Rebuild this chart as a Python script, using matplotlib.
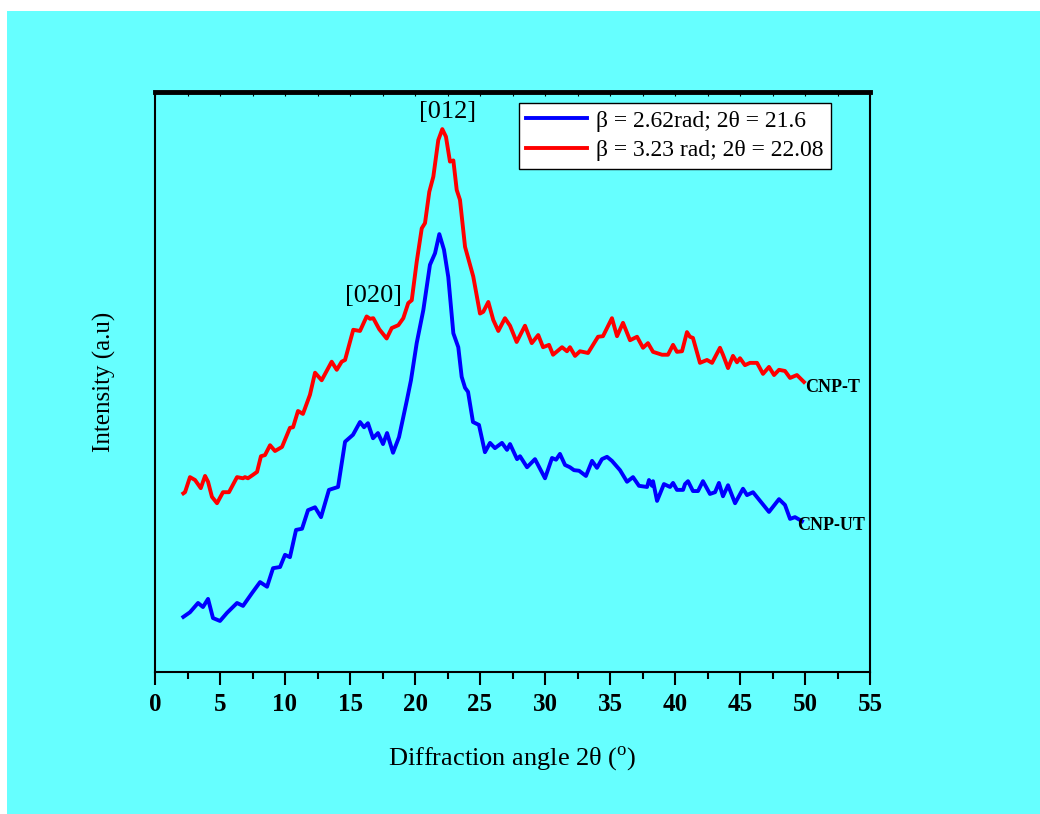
# XRD patterns of CNP-UT and CNP-T
import numpy as np
import matplotlib
matplotlib.use("Agg")
import matplotlib.pyplot as plt
from matplotlib.patches import Rectangle
from matplotlib.ticker import MultipleLocator

plt.rcParams['font.family'] = ['Liberation Serif', 'DejaVu Serif']
plt.rcParams['mathtext.fontset'] = 'custom'
plt.rcParams['mathtext.rm'] = 'Liberation Serif'

ut_x = [2.18, 2.69, 3.31, 3.69, 4.08, 4.46, 5.0, 5.54, 6.31, 6.77, 7.46, 8.08, 8.62, 9.08,
        9.62, 10.0, 10.38, 10.85, 11.31, 11.77, 12.31, 12.77, 13.38, 14.08, 14.62, 15.23,
        15.77, 16.08, 16.38, 16.77, 17.15, 17.54, 17.85, 18.31, 18.77, 19.38, 19.69,
        20.13, 20.64, 21.15, 21.54, 21.87, 22.23, 22.56, 22.95, 23.33, 23.59, 23.85,
        24.08, 24.46, 24.92, 25.38, 25.77, 26.15, 26.69, 27.08, 27.31, 27.85,
        28.08, 28.62, 29.23, 30.0, 30.54, 30.85, 31.15, 31.54, 31.92, 32.23, 32.62,
        33.15, 33.62, 34.0, 34.38, 34.77, 35.15, 35.77, 36.31, 36.77, 37.23, 37.85,
        38.0, 38.23, 38.31, 38.62, 39.15, 39.62, 39.85, 40.15, 40.62, 40.77, 41.0,
        41.38, 41.77, 42.15, 42.69, 43.08, 43.38, 43.69, 44.08, 44.62, 45.23, 45.54,
        46.0, 46.69, 47.23, 48.0, 48.46, 48.85, 49.23, 49.77]
ut_y = [9.5, 10.3, 11.9, 11.2, 12.6, 9.3, 8.8, 10.2, 11.9, 11.4, 13.6, 15.5, 14.7, 17.9,
        18.1, 20.2, 19.8, 24.5, 24.7, 27.9, 28.4, 26.7, 31.4, 31.9, 39.7, 40.9,
        43.1, 42.2, 42.9, 40.3, 41.2, 39.3, 41.2, 37.8, 40.5, 46.9, 50.3,
        56.7, 62.4, 70.2, 72.2, 75.5, 72.8, 68.1, 58.4, 56.0, 50.9, 49.0,
        48.3, 43.1, 42.6, 37.9, 39.5, 38.6, 39.5, 38.3, 39.3, 36.7,
        37.2, 35.3, 36.7, 33.4, 36.9, 36.6, 37.6, 35.7, 35.3, 34.8, 34.7,
        33.8, 36.4, 35.2, 36.7, 37.1, 36.4, 34.8, 32.8, 33.6, 32.1, 31.9,
        33.1, 32.1, 32.9, 29.5, 32.4, 31.9, 32.6, 31.4, 31.4, 32.4, 32.9,
        31.2, 31.2, 32.9, 30.7, 31.0, 32.6, 30.3, 32.2, 29.1, 31.6, 30.5,
        31.0, 29.1, 27.6, 29.8, 28.8, 26.4, 26.7, 26.0]

t_x = [2.18, 2.31, 2.69, 3.08, 3.52, 3.85, 4.08, 4.38, 4.77, 5.23, 5.69, 6.31, 6.77, 6.92,
       7.15, 7.54, 7.85, 8.15, 8.46, 8.85, 9.23, 9.77, 10.38, 10.62, 11.0, 11.38, 11.92,
       12.31, 12.82, 13.59, 13.98, 14.36, 14.62, 15.25, 15.77, 16.28, 16.54, 16.79,
       17.25, 17.82, 18.21, 18.72, 19.1, 19.48, 19.75, 20.13, 20.52, 20.77, 21.1,
       21.41, 21.79, 22.1, 22.38, 22.69, 22.95, 23.21, 23.46, 23.85, 24.48, 25.0,
       25.25, 25.64, 26.02, 26.41, 26.92, 27.31, 27.82, 28.46, 28.98, 29.48,
       29.85, 30.31, 30.62, 31.31, 31.69, 31.92, 32.31, 32.69, 33.31, 34.08, 34.46,
       35.15, 35.54, 36.0, 36.54, 37.08, 37.54, 37.92, 38.31, 39.0, 39.46, 39.85,
       40.15, 40.54, 40.92, 41.15, 41.38, 41.92, 42.46, 42.85, 43.46, 43.69, 44.08,
       44.46, 44.77, 45.0, 45.38, 45.77, 46.31, 46.77, 47.23, 47.62, 48.0, 48.46,
       48.85, 49.38, 49.92]
t_y = [30.8, 31.0, 33.6, 33.1, 31.7, 33.8, 32.8, 30.2, 29.1, 31.0, 31.0, 33.6, 33.4, 33.6,
       33.4, 34.0, 34.5, 37.2, 37.4, 39.1, 38.1, 38.8, 42.1, 42.2, 45.0, 44.5, 47.8,
       51.6, 50.3, 53.5, 52.1, 53.5, 53.8, 59.0, 58.8, 61.3, 60.9, 61.0,
       59.1, 57.5, 59.3, 59.8, 61.0, 63.6, 64.1, 70.7, 76.5, 77.4, 82.8,
       85.4, 91.7, 93.6, 92.3, 88.0, 88.2, 83.1, 81.4, 73.3, 68.2, 61.8,
       62.1, 63.8, 60.7, 58.8, 61.0, 59.7, 56.9, 59.7, 56.7, 58.1,
       56.0, 56.4, 54.7, 56.0, 55.3, 56.0, 54.5, 55.3, 55.0, 57.8, 57.9,
       61.0, 57.9, 60.2, 57.2, 57.8, 55.9, 56.7, 55.2, 54.7, 54.7, 56.4,
       55.2, 55.3, 58.6, 57.8, 57.6, 53.3, 53.8, 53.3, 55.9, 54.7, 52.4,
       54.5, 53.4, 54.1, 52.9, 53.3, 53.3, 51.4, 52.6, 51.2, 52.1, 51.9,
       50.7, 51.2, 50.0]

labels = ['β = 2.62rad; 2θ = 21.6', 'β = 3.23 rad; 2θ = 22.08']
bg = '#66ffff'

fig = plt.figure(figsize=(10.4, 8.14), dpi=100, facecolor='white')
fig.patches.append(Rectangle((7/1040, 0), 1, 1 - 11/814, transform=fig.transFigure,
                             facecolor=bg, edgecolor='none', zorder=-10))
ax = fig.add_axes([155/1040, 1 - 672/814, 715/1040, 580/814])
ax.set_facecolor(bg)

ax.plot(ut_x, ut_y, color='#0000ff', lw=2.8, label=labels[0], solid_joinstyle='round')
ax.plot(t_x, t_y, color='#ff0000', lw=2.8, label=labels[1], solid_joinstyle='round')

ax.set_xlim(0, 55)
ax.set_ylim(0, 100)
ax.xaxis.set_major_locator(MultipleLocator(5))
ax.xaxis.set_minor_locator(MultipleLocator(2.5))
ax.set_yticks([])
ax.tick_params(axis='x', which='major', direction='out', length=9, width=1.5,
               labelsize=18, pad=6)
ax.tick_params(axis='x', which='minor', direction='out', length=5, width=1.5)
for lab in ax.get_xticklabels():
    lab.set_fontweight('bold')
for s in ['left', 'bottom', 'right']:
    ax.spines[s].set_linewidth(1.5)
ax.spines['top'].set_linewidth(3.5)

# small inward ticks under the thick top spine
top = ax.secondary_xaxis('top')
top.xaxis.set_major_locator(MultipleLocator(5))
top.xaxis.set_minor_locator(MultipleLocator(2.5))
top.tick_params(which='both', direction='in', length=3, width=0.8, labeltop=False)
top.spines['top'].set_visible(False)

ax.set_xlabel('Diffraction angle 2θ ($^{\\rm o}$)', fontsize=19, labelpad=20)
ax.set_ylabel('Intensity (a.u)', fontsize=18, labelpad=28)

ax.text(22.5, 96.5, '[012]', fontsize=19, ha='center', va='center')
ax.text(16.8, 64.8, '[020]', fontsize=19, ha='center', va='center')
ax.text(50.0, 49.0, 'CNP-T', fontsize=13, fontweight='bold', ha='left', va='center')
ax.text(49.4, 25.3, 'CNP-UT', fontsize=13, fontweight='bold', ha='left', va='center')

leg = ax.legend(loc='upper right', bbox_to_anchor=(0.9455, 0.981), fontsize=17,
                frameon=True, fancybox=False, framealpha=1, edgecolor='black',
                handlelength=2.6, handletextpad=0.4, borderpad=0.3, labelspacing=0.35,
                borderaxespad=0)
leg.get_frame().set_linewidth(1.0)

fig.savefig('out.png', dpi=100, facecolor=fig.get_facecolor())
